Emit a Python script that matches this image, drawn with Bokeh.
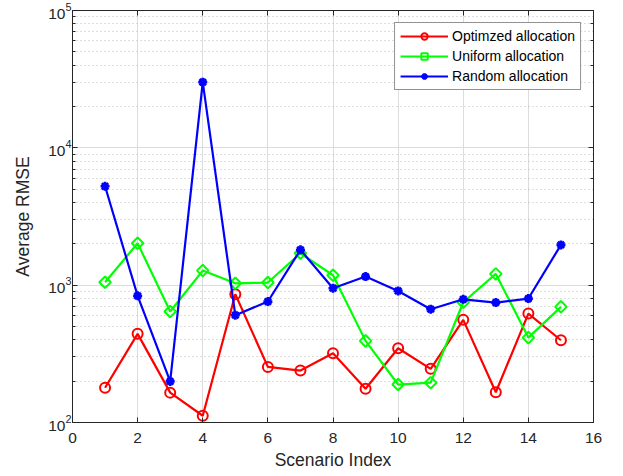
from bokeh.plotting import figure
from bokeh.models import (Range1d, FixedTicker, LinearAxis, LogAxis, LogTicker,
                          Legend, LegendItem)
from bokeh.embed import file_html
from bokeh.resources import INLINE
import math

scenario = list(range(1, 16))
optimized = [179, 442, 165, 112, 859, 254, 239, 319, 176, 347, 246, 559, 166, 621, 397]
uniform = [1050, 2018, 643, 1277, 1032, 1045, 1707, 1181, 393, 189, 195, 751, 1208, 415, 695]
random_alloc = [5250, 836, 199, 30060, 604, 760, 1808, 950, 1155, 908, 668, 789, 747, 799, 1965]
x_ticks = [0, 2, 4, 6, 8, 10, 12, 14, 16]
labels = ["Optimzed allocation", "Uniform allocation", "Random allocation"]

FONT = "Liberation Sans"
AX = "#262626"

p = figure(width=623, height=476, y_axis_type="log",
           x_range=Range1d(0, 16), y_range=Range1d(100, 1e5),
           output_backend="svg", toolbar_location=None,
           min_border_left=72, min_border_right=30,
           min_border_top=10, min_border_bottom=54)
p.background_fill_color = "white"
p.border_fill_color = "white"
p.outline_line_color = AX
p.outline_line_width = 1

# axes styling
for ax in [p.xaxis[0], p.yaxis[0]]:
    ax.axis_line_color = AX
    ax.major_tick_line_color = AX
    ax.minor_tick_line_color = AX
    ax.major_tick_in = 5
    ax.major_tick_out = 0
    ax.minor_tick_in = 3
    ax.minor_tick_out = 0
    ax.major_label_text_font = FONT
    ax.major_label_text_color = AX
    ax.major_label_text_font_size = "15.5px"
    ax.axis_label_text_font = FONT
    ax.axis_label_text_color = AX
    ax.axis_label_text_font_style = "normal"
    ax.axis_label_text_font_size = "17.5px"

p.xaxis.ticker = FixedTicker(ticks=x_ticks, minor_ticks=[])
p.xaxis.major_label_standoff = 10
p.xaxis.axis_label = "Scenario Index"
p.xaxis.axis_label_standoff = 4
p.yaxis.axis_label = "Average RMSE"
p.yaxis.major_label_standoff = 1
p.yaxis.axis_label_standoff = 12

# box axes (top / right) with inward ticks, labels invisible
top = LinearAxis(ticker=FixedTicker(ticks=x_ticks, minor_ticks=[]))
right = LogAxis(ticker=LogTicker())
for ax in [top, right]:
    ax.axis_line_color = AX
    ax.major_tick_line_color = AX
    ax.minor_tick_line_color = AX
    ax.major_tick_in = 5
    ax.major_tick_out = 0
    ax.minor_tick_in = 3
    ax.minor_tick_out = 0
    ax.major_label_text_font_size = "1px"
    ax.major_label_text_alpha = 0
    ax.major_label_standoff = 0
p.add_layout(top, "above")
p.add_layout(right, "right")

# grids
p.xgrid.ticker = FixedTicker(ticks=x_ticks, minor_ticks=[])
p.xgrid.grid_line_color = "#dcdcdc"
p.ygrid.grid_line_color = "#dcdcdc"
p.ygrid.minor_grid_line_color = "#bdbdbd"
p.ygrid.minor_grid_line_dash = "1 3"

colors = ["#ff0000", "#00ff00", "#0000ff"]
series = [optimized, uniform, random_alloc]
items = []
for i, (vals, col, lab) in enumerate(zip(series, colors, labels)):
    ln = p.line(scenario, vals, line_color=col, line_width=2.2)
    if i == 0:
        mk = p.scatter(scenario, vals, marker="circle", size=10,
                       line_color=col, line_width=2, fill_color=None)
    elif i == 1:
        mk = p.scatter(scenario, vals, marker="square", size=8.2, angle=math.pi / 4,
                       line_color=col, line_width=2, fill_color=None)
    else:
        mk = p.scatter(scenario, vals, marker="asterisk", size=9,
                       line_color=col, line_width=2.7)
    items.append(LegendItem(label=lab, renderers=[ln, mk]))

legend = Legend(items=items, location="top_right", margin=12,
                padding=5, spacing=4, glyph_width=48, glyph_height=16,
                label_height=16, label_standoff=4,
                label_text_font=FONT, label_text_font_size="14px",
                label_text_color="black",
                border_line_color=AX, border_line_width=1,
                background_fill_color="white", background_fill_alpha=1)
p.add_layout(legend)

open("out.html", "w").write(file_html(p, INLINE))
